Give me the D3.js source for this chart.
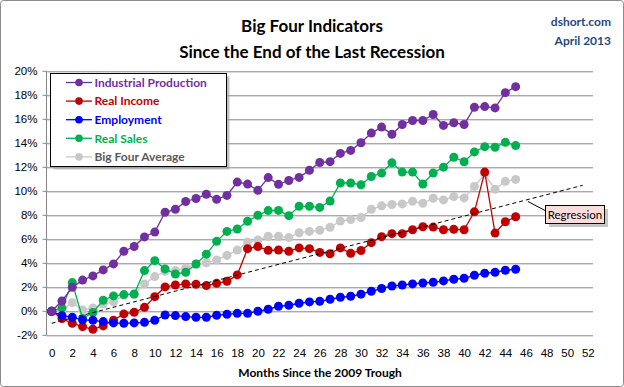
<!DOCTYPE html>
<meta charset="utf-8">
<style type="text/css">
	body { margin: 0; background: #fff; }
	svg { display: block; font-family: Lato, "Open Sans", sans-serif; }
</style>
<body>
</body>
<script src="https://d3js.org/d3.v7.min.js"></script>
<script>

	// months since the trough, 0..45
	var months = d3.range(0, 46);
	var xTicks = d3.range(0, 53, 2);
	var yTicks = d3.range(-2, 21, 2);

	var industrial = [0, 0.86, 2.0, 2.6, 2.95, 3.45, 3.95, 5.0, 5.4, 6.2, 6.6, 8.25, 8.5, 9.15, 9.4, 9.75,
		9.33, 9.66, 10.77, 10.6, 10.08, 11.14, 10.58, 10.9, 11.16, 11.75, 12.4, 12.47, 13.16, 13.41, 14.05,
		14.85, 15.35, 14.75, 15.57, 15.9, 15.9, 16.4, 15.49, 15.71, 15.57, 17.0, 17.06, 16.95, 18.22, 18.72];
	var income = [0, -0.6, -1.0, -1.28, -1.5, -1.22, -0.75, -0.22, -0.08, 0.33, 1.22, 2.03, 2.19, 2.28, 2.25, 2.14,
		2.33, 2.5, 3.03, 5.22, 5.39, 5.08, 5.11, 5.0, 5.28, 5.22, 4.91, 4.8, 5.28, 4.83, 5.07,
		5.72, 6.22, 6.47, 6.47, 6.8, 7.05, 7.02, 6.8, 6.83, 6.8, 8.29, 11.6, 6.52, 7.46, 7.88];
	var employment = [0, -0.36, -0.5, -0.72, -0.75, -0.86, -0.97, -1.0, -0.97, -0.92, -0.75, -0.31, -0.36, -0.44, -0.5, -0.5,
		-0.33, -0.25, -0.17, -0.17, 0, 0.17, 0.42, 0.5, 0.67, 0.78, 0.83, 1.0, 1.17, 1.25, 1.43,
		1.67, 1.9, 2.11, 2.19, 2.28, 2.36, 2.42, 2.53, 2.67, 2.75, 3.0, 3.17, 3.25, 3.42, 3.5];
	var sales = [0, 0.28, 2.39, -0.6, -0.1, 0.92, 1.28, 1.39, 1.44, 3.39, 4.22, 3.53, 3.11, 3.25, 3.94, 4.76,
		5.83, 6.66, 6.86, 7.5, 8.0, 8.39, 8.41, 7.97, 8.75, 8.75, 8.66, 9.19, 10.69, 10.69, 10.55,
		11.23, 11.52, 12.37, 11.6, 11.6, 10.61, 11.52, 12.01, 12.84, 12.46, 13.28, 13.72, 13.67, 14.08, 13.81];
	var average = [0, 0.1, 0.72, 0.1, 0.28, 0.6, 0.78, 1.33, 1.39, 2.28, 2.89, 3.33, 3.39, 3.61, 3.94, 4.05,
		4.28, 4.66, 5.1, 5.77, 5.94, 6.25, 6.25, 6.14, 6.55, 6.66, 6.75, 7.0, 7.52, 7.64, 7.81,
		8.5, 8.79, 8.9, 8.95, 9.17, 9.0, 9.42, 9.28, 9.56, 9.45, 10.41, 11.43, 10.17, 10.83, 10.99];

	var regX = [0, 51.5];
	var regY = [-1.0, 10.5];

	var series = [
		{name: "Big Four Average", values: average, color: "#c8c8c8", text: "#595959"},
		{name: "Real Sales", values: sales, color: "#00b050", text: "#00b050"},
		{name: "Real Income", values: income, color: "#c00000", text: "#c00000"},
		{name: "Employment", values: employment, color: "#0000ff", text: "#0000ff"},
		{name: "Industrial Production", values: industrial, color: "#7030a0", text: "#7030a0"}
	];
	var legendOrder = ["Industrial Production", "Real Income", "Employment", "Real Sales", "Big Four Average"];

	var W = 624, H = 387;
	var plot = {left: 46.5, right: 593, top: 71.3, bottom: 335.3};

	var svg = d3.select("body").append("svg")
		.attr("width", W)
		.attr("height", H);

	svg.append("rect")
		.attr("x", 0.5).attr("y", 0.5)
		.attr("width", W - 1).attr("height", H - 1)
		.attr("rx", 3)
		.attr("fill", "#fff")
		.attr("stroke", "#8c8c8c");

	var x = d3.scalePoint()
		.domain(d3.range(0, 53))
		.range([plot.left, plot.right])
		.padding(0.5);

	var xLin = d3.scaleLinear()
		.domain([0, 52])
		.range([x(0), x(52)]);

	var y = d3.scaleLinear()
		.domain([-2, 20])
		.range([plot.bottom, plot.top]);

	// titles
	svg.append("text")
		.attr("x", 312).attr("y", 32)
		.attr("text-anchor", "middle")
		.style("font-size", "17px").style("font-weight", "bold")
		.text("Big Four Indicators");
	svg.append("text")
		.attr("x", 312).attr("y", 58)
		.attr("text-anchor", "middle")
		.style("font-size", "17px").style("font-weight", "bold")
		.text("Since the End of the Last Recession");

	svg.append("text")
		.attr("x", 611).attr("y", 26)
		.attr("text-anchor", "end")
		.attr("fill", "#1f497d")
		.style("font-size", "12px").style("font-weight", "bold")
		.text("dshort.com");
	svg.append("text")
		.attr("x", 611).attr("y", 45)
		.attr("text-anchor", "end")
		.attr("fill", "#1f497d")
		.style("font-size", "12px").style("font-weight", "bold")
		.text("April 2013");

	// grid
	var y_axis = d3.axisLeft(y)
		.tickValues(yTicks)
		.tickSize(plot.right - plot.left)
		.tickPadding(10)
		.tickFormat(function(d) { return d + "%"; });

	var gy = svg.append("g")
		.attr("transform", "translate(" + plot.right + ",0)")
		.call(y_axis);
	gy.select(".domain").remove();
	gy.selectAll("line").attr("stroke", "#868686");
	gy.selectAll("text")
		.attr("x", -(plot.right - plot.left) - 9)
		.style("font-size", "11.5px")
		.attr("fill", "#000");

	// left axis line + little ticks
	svg.append("line")
		.attr("x1", plot.left).attr("x2", plot.left)
		.attr("y1", plot.top).attr("y2", plot.bottom)
		.attr("stroke", "#868686");
	svg.selectAll(".ytick")
		.data(yTicks)
		.enter().append("line")
		.attr("x1", plot.left - 4).attr("x2", plot.left)
		.attr("y1", function(d) { return y(d); })
		.attr("y2", function(d) { return y(d); })
		.attr("stroke", "#868686");

	var x_axis = d3.axisBottom(x)
		.tickValues(xTicks)
		.tickSize(0)
		.tickPadding(14);

	var gx = svg.append("g")
		.attr("transform", "translate(0," + plot.bottom + ")")
		.call(x_axis);
	gx.select(".domain").remove();
	gx.selectAll("text")
		.style("font-size", "11.5px")
		.attr("fill", "#000");

	svg.append("text")
		.attr("x", 320).attr("y", 377)
		.attr("text-anchor", "middle")
		.style("font-size", "12px").style("font-weight", "bold")
		.text("Months Since the 2009 Trough");

	// series
	var line = d3.line()
		.x(function(d, i) { return x(months[i]); })
		.y(function(d) { return y(d); });

	series.forEach(function(s) {
		var g = svg.append("g");
		g.append("path")
			.datum(s.values)
			.attr("d", line)
			.attr("fill", "none")
			.attr("stroke", s.color)
			.attr("stroke-width", 1.3);
		g.selectAll("circle")
			.data(s.values)
			.enter().append("circle")
			.attr("cx", function(d, i) { return x(months[i]); })
			.attr("cy", function(d) { return y(d); })
			.attr("r", 4.5)
			.attr("fill", s.color);
	});

	// regression
	svg.append("line")
		.attr("x1", xLin(regX[0])).attr("y1", y(regY[0]))
		.attr("x2", xLin(regX[1])).attr("y2", y(regY[1]))
		.attr("stroke", "#000")
		.attr("stroke-width", 1)
		.attr("stroke-dasharray", "4,3");

	// regression callout
	svg.append("line")
		.attr("x1", 528).attr("y1", 201.5)
		.attr("x2", 546).attr("y2", 211)
		.attr("stroke", "#000");
	svg.append("rect")
		.attr("x", 549).attr("y", 209)
		.attr("width", 59).attr("height", 18)
		.attr("fill", "#a0a0a0").attr("opacity", 0.6);
	svg.append("rect")
		.attr("x", 545.5).attr("y", 205.5)
		.attr("width", 59).attr("height", 18)
		.attr("fill", "#ffdcdc")
		.attr("stroke", "#000");
	svg.append("text")
		.attr("x", 575).attr("y", 218.5)
		.attr("text-anchor", "middle")
		.style("font-size", "11.5px")
		.text("Regression");

	// legend
	var lg = svg.append("g");
	lg.append("rect")
		.attr("x", 53.5).attr("y", 76.5)
		.attr("width", 176).attr("height", 93)
		.attr("fill", "#9a9a9a").attr("opacity", 0.6);
	lg.append("rect")
		.attr("x", 50.5).attr("y", 73.5)
		.attr("width", 176).attr("height", 93)
		.attr("fill", "#fff")
		.attr("stroke", "#000");

	legendOrder.forEach(function(name, i) {
		var s = series.filter(function(d) { return d.name == name; })[0];
		var yy = 82.5 + i * 18.6;
		lg.append("line")
			.attr("x1", 66).attr("x2", 92)
			.attr("y1", yy).attr("y2", yy)
			.attr("stroke", s.color).attr("stroke-width", 1.3);
		lg.append("circle")
			.attr("cx", 79).attr("cy", yy)
			.attr("r", 3.8)
			.attr("fill", s.color);
		lg.append("text")
			.attr("x", 94.5).attr("y", yy + 4.3)
			.attr("fill", s.text)
			.style("font-size", "12px").style("font-weight", "bold")
			.text(name);
	});

</script>
